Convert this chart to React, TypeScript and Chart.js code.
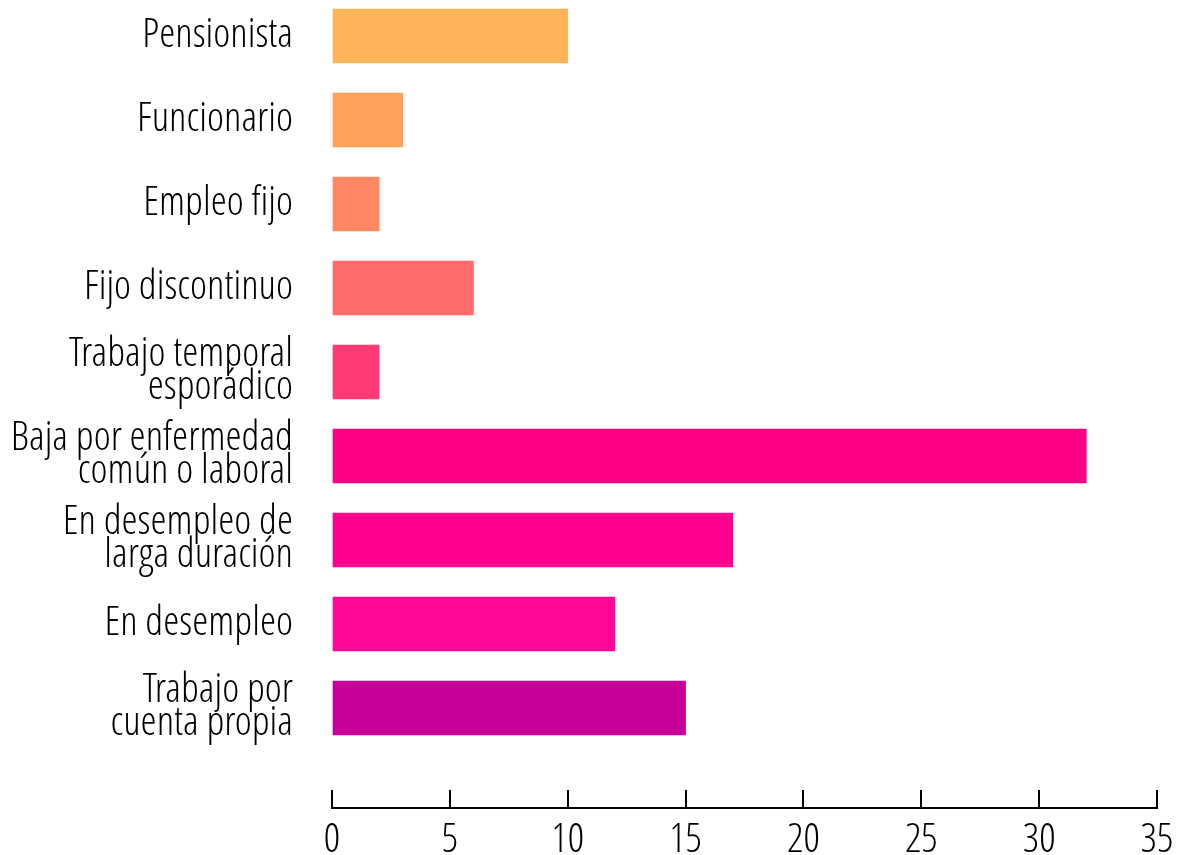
import React, { useEffect, useRef } from "react";
import { Chart, registerables } from "chart.js";

Chart.register(...registerables);

const categories: (string | string[])[] = [
  "Pensionista",
  "Funcionario",
  "Empleo fijo",
  "Fijo discontinuo",
  ["Trabajo temporal", "esporádico"],
  ["Baja por enfermedad", "común o laboral"],
  ["En desempleo de", "larga duración"],
  "En desempleo",
  ["Trabajo por", "cuenta propia"],
];

const values: number[] = [10, 3, 2, 6, 2, 32, 17, 12, 15];

const barColors: string[] = [
  "#FFB45A",
  "#FFA05C",
  "#FF8862",
  "#FF6B69",
  "#FF3A74",
  "#FF0084",
  "#FF008F",
  "#FF0897",
  "#C8009A",
];

const xTicks: number[] = [0, 5, 10, 15, 20, 25, 30, 35];

const FONT_FAMILY = "'Open Sans Condensed Light', 'Open Sans', 'Liberation Sans Narrow', sans-serif";

export default function App() {
  const ref = useRef<HTMLCanvasElement | null>(null);

  useEffect(() => {
    document.body.style.margin = "0";
    const canvas = ref.current;
    if (!canvas) return;
    const chart = new Chart(canvas, {
      type: "bar",
      data: {
        datasets: [
          {
            data: values.map((v, i) => ({ x: v, y: i })),
            backgroundColor: barColors,
            borderWidth: 0,
            barThickness: 54,
          },
        ],
      },
      options: {
        indexAxis: "y",
        responsive: false,
        animation: false,
        layout: { padding: { top: 0, right: 21, bottom: 0, left: 0 } },
        plugins: { legend: { display: false }, tooltip: { enabled: false } },
        scales: {
          y: {
            type: "linear",
            reverse: true,
            offset: false,
            min: -36 / 84,
            max: (808 - 36) / 84,
            afterBuildTicks: (scale: any) => {
              scale.ticks = categories.map((_, i) => ({ value: i }));
            },
            afterFit: (scale: any) => {
              scale.width = 332;
              scale.paddingTop = 0;
              scale.paddingBottom = 0;
            },
            grid: { display: false, drawTicks: false, offset: false },
            border: { display: false },
            ticks: {
              padding: 39,
              color: "#000",
              font: { family: FONT_FAMILY, size: 41, weight: "300 condensed" as any, lineHeight: 0.8 },
              callback: (v: any) => categories[v as number] as any,
            },
          },
          x: {
            type: "linear",
            min: 0,
            max: 35,
            afterBuildTicks: (scale: any) => {
              scale.ticks = xTicks.map((v) => ({ value: v }));
            },
            afterFit: (scale: any) => {
              scale.height = 47;
              scale.paddingLeft = 0;
              scale.paddingRight = 0;
            },
            grid: {
              drawOnChartArea: false,
              drawTicks: true,
              tickLength: -18,
              color: "#000",
              lineWidth: 2,
            },
            border: { display: true, color: "#000", width: 2 },
            ticks: {
              padding: 27,
              color: "#000",
              maxRotation: 0,
              font: { family: FONT_FAMILY, size: 41, weight: "300 condensed" as any },
              callback: (v: any) => String(v),
            },
          },
        },
      },
    });
    return () => chart.destroy();
  }, []);

  return <canvas ref={ref} width={1178} height={855} style={{ display: "block" }} />;
}
